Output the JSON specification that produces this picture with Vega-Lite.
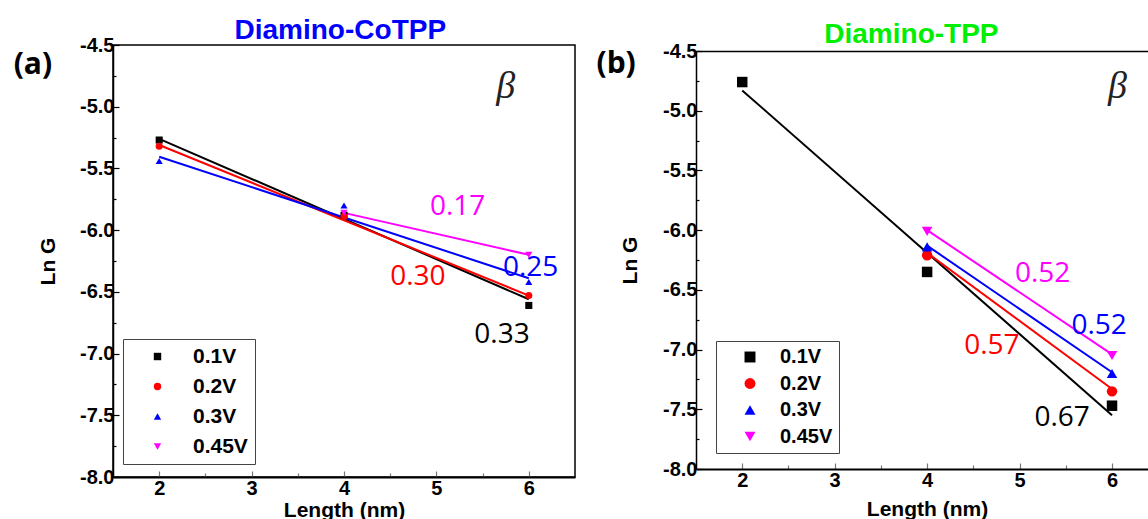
{
  "$schema": "https://vega.github.io/schema/vega-lite/v6.json",
  "background": "white",
  "padding": {"left": 12, "top": 15, "right": 0, "bottom": 0},
  "spacing": 121,
  "bounds": "flush",
  "resolve": {"scale": {"color": "independent", "shape": "independent"}, "legend": {"color": "independent", "shape": "independent"}},
  "config": {
    "style": {"guide-label": {"font": "Liberation Sans", "fontWeight": "bold", "fontSize": 20, "fill": "black"}},
    "axis": {"grid": false, "labelFont": "Liberation Sans", "labelFontWeight": "bold", "labelFontSize": 20, "labelColor": "black", "labelFlush": false, "labelOverlap": false,
      "titleFont": "Liberation Sans", "titleFontWeight": "bold", "titleFontSize": 21, "titleColor": "black", "domainColor": "black", "tickColor": "black"},
    "legend": {"labelFont": "Liberation Sans", "labelFontWeight": "bold", "labelFontSize": 21, "labelColor": "black", "strokeColor": "#444", "fillColor": "white"},
    "text": {"baseline": "middle", "align": "center"}
  },
  "datasets": {
    "ptA": [
      {"V": "0.1V", "L": 2, "G": -5.27}, {"V": "0.1V", "L": 4, "G": -5.88}, {"V": "0.1V", "L": 6, "G": -6.61},
      {"V": "0.2V", "L": 2, "G": -5.32}, {"V": "0.2V", "L": 4, "G": -5.89}, {"V": "0.2V", "L": 6, "G": -6.53},
      {"V": "0.3V", "L": 2, "G": -5.44}, {"V": "0.3V", "L": 4, "G": -5.80}, {"V": "0.3V", "L": 6, "G": -6.42},
      {"V": "0.45V", "L": 4, "G": -5.86}, {"V": "0.45V", "L": 6, "G": -6.20}
    ],
    "fitA": [
      {"V": "0.1V", "L": 2, "G": -5.26}, {"V": "0.1V", "L": 6, "G": -6.56},
      {"V": "0.2V", "L": 2, "G": -5.31}, {"V": "0.2V", "L": 6, "G": -6.53},
      {"V": "0.3V", "L": 2, "G": -5.405}, {"V": "0.3V", "L": 6, "G": -6.39},
      {"V": "0.45V", "L": 4, "G": -5.86}, {"V": "0.45V", "L": 6, "G": -6.20}
    ],
    "annA": [
      {"V": "0.45V", "t": "0.17", "L": 5.23, "G": -5.81},
      {"V": "0.2V", "t": "0.30", "L": 4.80, "G": -6.38},
      {"V": "0.3V", "t": "0.25", "L": 6.02, "G": -6.31},
      {"V": "0.1V", "t": "0.33", "L": 5.71, "G": -6.85}
    ],
    "betaA": [{"t": "β", "L": 5.75, "G": -4.84}],
    "tagA": [{"t": "(a)", "L": 0.633, "G": -4.66}],
    "headA": [{"t": "Diamino-CoTPP", "L": 3.96, "G": -4.449}],
    "ptB": [
      {"V": "0.1V", "L": 2, "G": -4.76}, {"V": "0.1V", "L": 4, "G": -6.35}, {"V": "0.1V", "L": 6, "G": -7.47},
      {"V": "0.2V", "L": 4, "G": -6.21}, {"V": "0.2V", "L": 6, "G": -7.35},
      {"V": "0.3V", "L": 4, "G": -6.14}, {"V": "0.3V", "L": 6, "G": -7.20},
      {"V": "0.45V", "L": 4, "G": -6.01}, {"V": "0.45V", "L": 6, "G": -7.05}
    ],
    "fitB": [
      {"V": "0.1V", "L": 2, "G": -4.83}, {"V": "0.1V", "L": 6, "G": -7.55},
      {"V": "0.2V", "L": 4, "G": -6.19}, {"V": "0.2V", "L": 6, "G": -7.33},
      {"V": "0.3V", "L": 4, "G": -6.13}, {"V": "0.3V", "L": 6, "G": -7.19},
      {"V": "0.45V", "L": 4, "G": -6.00}, {"V": "0.45V", "L": 6, "G": -7.04}
    ],
    "annB": [
      {"V": "0.45V", "t": "0.52", "L": 5.25, "G": -6.37},
      {"V": "0.3V", "t": "0.52", "L": 5.86, "G": -6.80},
      {"V": "0.2V", "t": "0.57", "L": 4.70, "G": -6.97},
      {"V": "0.1V", "t": "0.67", "L": 5.46, "G": -7.57}
    ],
    "betaB": [{"t": "β", "L": 6.06, "G": -4.80}],
    "tagB": [{"t": "(b)", "L": 0.636, "G": -4.605}],
    "headB": [{"t": "Diamino-TPP", "L": 3.83, "G": -4.437}]
  },
  "hconcat": [
    {
      "width": 462,
      "height": 432,
      "view": {"stroke": "black", "strokeWidth": 1.5},
      "encoding": {
        "x": {"field": "L", "type": "quantitative", "scale": {"domain": [1.5, 6.5], "nice": false, "zero": false},
          "axis": {"values": [2, 2.5, 3, 3.5, 4, 4.5, 5, 5.5, 6], "labelExpr": "datum.value % 1 == 0 ? '' + datum.value : ''",
            "tickSize": {"condition": {"test": "datum.value % 1 == 0", "value": -6}, "value": -4},
            "tickColor": "#777", "tickWidth": 1.2, "domainWidth": 2, "labelPadding": 7,
            "title": "Length (nm)", "titleX": 231, "titleY": 33, "titleBaseline": "middle"}},
        "y": {"field": "G", "type": "quantitative", "scale": {"domain": [-8, -4.5], "nice": false, "zero": false},
          "axis": {"values": [-8, -7.75, -7.5, -7.25, -7, -6.75, -6.5, -6.25, -6, -5.75, -5.5, -5.25, -5, -4.75, -4.5],
            "labelExpr": "abs(datum.value*2 - round(datum.value*2)) < 0.01 ? replace(format(datum.value, '.1f'), '\u2212', '-') : ''",
            "tickSize": {"condition": {"test": "abs(datum.value*2 - round(datum.value*2)) < 0.01", "value": -6}, "value": -3},
            "tickWidth": 1.2, "domainWidth": 1.5, "labelPadding": 5,
            "title": "Ln G", "titleX": -65, "titleY": 216, "titleBaseline": "middle", "titleAlign": "center", "titleAngle": -90}}
      },
      "layer": [
        {"data": {"name": "fitA"}, "mark": {"type": "line", "strokeWidth": 2},
          "encoding": {"color": {"field": "V", "type": "nominal", "scale": {"domain": ["0.1V", "0.2V", "0.3V", "0.45V"], "range": ["#000000", "#ff0000", "#0000ff", "#ff00ff"]}}, "detail": {"field": "V"}}},
        {"data": {"name": "ptA"}, "mark": {"type": "point", "filled": true, "size": 50, "opacity": 1},
          "encoding": {
            "color": {"field": "V", "type": "nominal", "scale": {"domain": ["0.1V", "0.2V", "0.3V", "0.45V"], "range": ["#000000", "#ff0000", "#0000ff", "#ff00ff"]},
              "legend": {"title": null, "orient": "none", "legendX": 10, "legendY": 294, "padding": 7, "symbolOffset": 17, "labelOffset": 25, "rowPadding": 8, "symbolSize": 55, "symbolStrokeWidth": 0}},
            "shape": {"field": "V", "type": "nominal", "scale": {"domain": ["0.1V", "0.2V", "0.3V", "0.45V"], "range": ["square", "circle", "triangle-up", "triangle-down"]},
              "legend": {"title": null, "orient": "none", "legendX": 10, "legendY": 294, "padding": 7, "symbolOffset": 17, "labelOffset": 25, "rowPadding": 8, "symbolSize": 55, "symbolStrokeWidth": 0}}
          }},
        {"data": {"name": "annA"}, "mark": {"type": "text", "font": "Open Sans", "fontSize": 28},
          "encoding": {"text": {"field": "t"}, "color": {"field": "V", "type": "nominal", "scale": {"domain": ["0.1V", "0.2V", "0.3V", "0.45V"], "range": ["#000000", "#ff0000", "#0000ff", "#ff00ff"]}}}},
        {"data": {"name": "betaA"}, "mark": {"type": "text", "font": "Liberation Serif", "fontStyle": "italic", "fontSize": 38, "color": "#222"},
          "encoding": {"text": {"field": "t"}}},
        {"data": {"name": "tagA"}, "mark": {"type": "text", "font": "Open Sans", "fontWeight": "bold", "fontSize": 30, "color": "black"},
          "encoding": {"text": {"field": "t"}}},
        {"data": {"name": "headA"}, "mark": {"type": "text", "font": "Liberation Sans", "fontWeight": "bold", "fontSize": 28, "color": "#0000ff", "baseline": "alphabetic"},
          "encoding": {"text": {"field": "t"}}}
      ]
    },
    {
      "width": 453,
      "height": 424,
      "view": {"stroke": null},
      "resolve": {"axis": {"x": "independent"}},
      "encoding": {
        "x": {"field": "L", "type": "quantitative", "scale": {"domain": [1.5, 6.4], "nice": false, "zero": false}, "axis": null},
        "y": {"field": "G", "type": "quantitative", "scale": {"domain": [-8, -4.5], "nice": false, "zero": false, "range": [424, 6]},
          "axis": {"values": [-8, -7.75, -7.5, -7.25, -7, -6.75, -6.5, -6.25, -6, -5.75, -5.5, -5.25, -5, -4.75, -4.5],
            "labelExpr": "abs(datum.value*2 - round(datum.value*2)) < 0.01 ? replace(format(datum.value, '.1f'), '\u2212', '-') : ''",
            "tickSize": {"condition": {"test": "abs(datum.value*2 - round(datum.value*2)) < 0.01", "value": -6}, "value": -3},
            "tickWidth": 1.2, "domainWidth": 1.5, "labelPadding": 5,
            "title": "Ln G", "titleX": -66, "titleY": 215, "titleBaseline": "middle", "titleAlign": "center", "titleAngle": -90}}
      },
      "layer": [
        {"data": {"name": "fitB"}, "mark": {"type": "line", "strokeWidth": 2},
          "encoding": {
            "x": {"field": "L", "type": "quantitative", "scale": {"domain": [1.5, 6.4], "nice": false, "zero": false},
              "axis": {"orient": "bottom", "values": [2, 2.5, 3, 3.5, 4, 4.5, 5, 5.5, 6], "labelExpr": "datum.value % 1 == 0 ? '' + datum.value : ''",
                "tickSize": {"condition": {"test": "datum.value % 1 == 0", "value": -6}, "value": -4},
                "tickColor": "#777", "tickWidth": 1.2, "domainWidth": 2, "labelPadding": 7,
                "title": "Length (nm)", "titleX": 231, "titleY": 40, "titleBaseline": "middle"}},
            "color": {"field": "V", "type": "nominal", "scale": {"domain": ["0.1V", "0.2V", "0.3V", "0.45V"], "range": ["#000000", "#ff0000", "#0000ff", "#ff00ff"]}}, "detail": {"field": "V"}}},
        {"data": {"name": "ptB"}, "mark": {"type": "point", "filled": true, "size": 110, "opacity": 1},
          "encoding": {
            "color": {"field": "V", "type": "nominal", "scale": {"domain": ["0.1V", "0.2V", "0.3V", "0.45V"], "range": ["#000000", "#ff0000", "#0000ff", "#ff00ff"]},
              "legend": {"title": null, "orient": "none", "legendX": 20, "legendY": 296, "padding": 6, "symbolOffset": 18, "labelOffset": 20, "rowPadding": 6.5, "labelFontSize": 20, "symbolSize": 120, "symbolStrokeWidth": 0}},
            "shape": {"field": "V", "type": "nominal", "scale": {"domain": ["0.1V", "0.2V", "0.3V", "0.45V"], "range": ["square", "circle", "triangle-up", "triangle-down"]},
              "legend": {"title": null, "orient": "none", "legendX": 20, "legendY": 296, "padding": 6, "symbolOffset": 18, "labelOffset": 20, "rowPadding": 6.5, "labelFontSize": 20, "symbolSize": 120, "symbolStrokeWidth": 0}}
          }},
        {"data": {"name": "annB"}, "mark": {"type": "text", "font": "Open Sans", "fontSize": 28},
          "encoding": {"text": {"field": "t"}, "color": {"field": "V", "type": "nominal", "scale": {"domain": ["0.1V", "0.2V", "0.3V", "0.45V"], "range": ["#000000", "#ff0000", "#0000ff", "#ff00ff"]}}}},
        {"data": {"name": "betaB"}, "mark": {"type": "text", "font": "Liberation Serif", "fontStyle": "italic", "fontSize": 38, "color": "#222"},
          "encoding": {
            "x": {"field": "L", "type": "quantitative", "scale": {"domain": [1.5, 6.4], "nice": false, "zero": false},
              "axis": {"orient": "top", "offset": -6, "labels": false, "ticks": false, "domainWidth": 1.5, "title": null}},
            "text": {"field": "t"}}},
        {"data": {"name": "tagB"}, "mark": {"type": "text", "font": "Open Sans", "fontWeight": "bold", "fontSize": 30, "color": "black"},
          "encoding": {"text": {"field": "t"}}},
        {"data": {"name": "headB"}, "mark": {"type": "text", "font": "Liberation Sans", "fontWeight": "bold", "fontSize": 28, "color": "#00ee00", "baseline": "alphabetic"},
          "encoding": {"text": {"field": "t"}}}
      ]
    }
  ]
}
